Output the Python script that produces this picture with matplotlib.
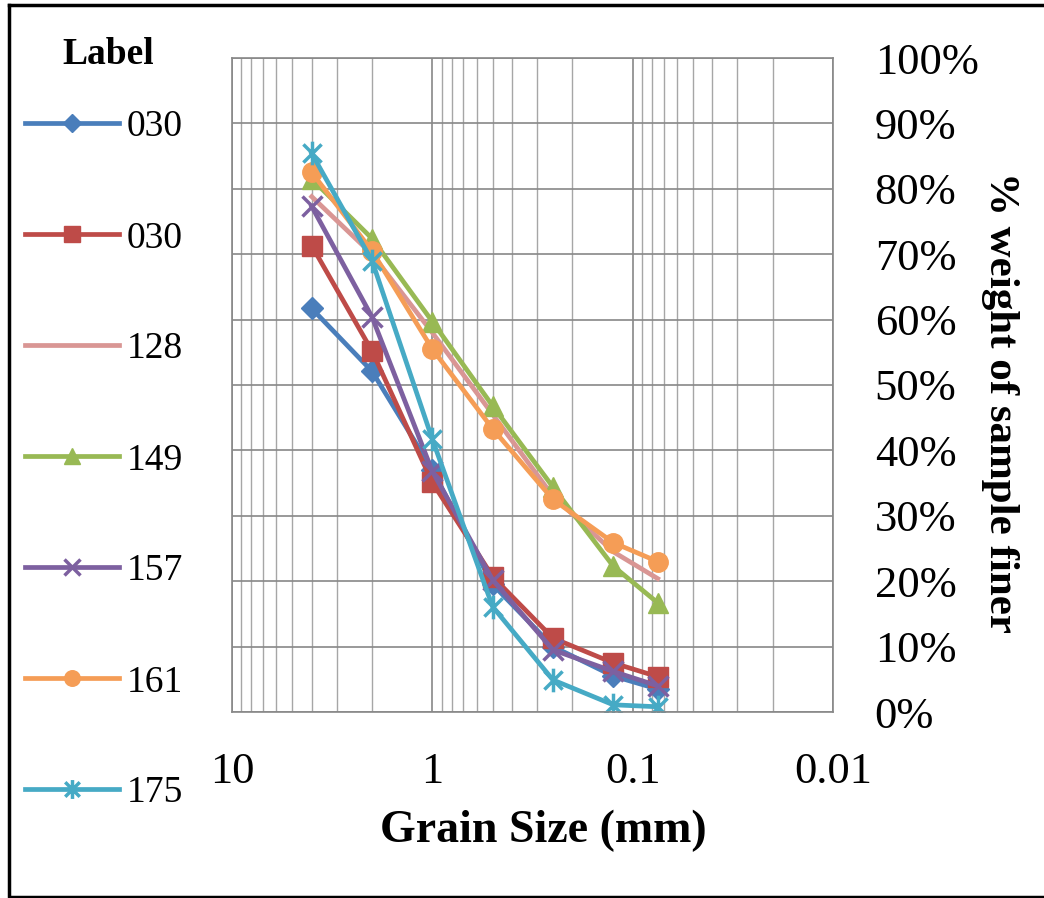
import numpy as np
import matplotlib
matplotlib.use('Agg')
from matplotlib import pyplot as plt
from matplotlib.path import Path
from matplotlib.lines import Line2D
from matplotlib.ticker import FixedLocator, NullFormatter

plt.rcParams['font.family'] = ['Liberation Serif', 'DejaVu Serif']

# grain size (mm) and % finer for each sample
sizes = [4, 2, 1, 0.5, 0.25, 0.125, 0.075]
labels = ['030', '030', '128', '149', '157', '161', '175']
s030a = [61.7, 52.1, 37.0, 19.5, 10.0, 5.5, 3.5]
s030b = [71.3, 55.2, 35.1, 20.7, 11.3, 7.5, 5.4]
s128 = [78.8, 70.0, 58.0, 45.5, 33.0, 24.5, 20.4]
s149 = [81.5, 72.4, 59.7, 46.8, 34.4, 22.3, 16.7]
s157 = [77.3, 60.4, 36.8, 20.2, 9.5, 6.2, 4.0]
s161 = [82.5, 70.5, 55.5, 43.3, 32.5, 25.9, 23.0]
s175 = [85.4, 69.0, 41.7, 16.1, 4.9, 1.1, 0.8]
series = [s030a, s030b, s128, s149, s157, s161, s175]

# asterisk marker like excel's (x plus vertical bar)
star = Path([(-1, -1), (1, 1), (-1, 1), (1, -1), (0, -1.3), (0, 1.3)],
            [Path.MOVETO, Path.LINETO, Path.MOVETO, Path.LINETO, Path.MOVETO, Path.LINETO])

styles = [
    dict(color='#4A7EBB', marker='D', ms=11),
    dict(color='#BE4B48', marker='s', ms=14),
    dict(color='#D99694', marker=None, ms=0),
    dict(color='#98B954', marker='^', ms=14),
    dict(color='#7D60A0', marker='x', ms=15, mew=2.5),
    dict(color='#F59D56', marker='o', ms=14),
    dict(color='#46AAC5', marker=star, ms=17, mew=2.5),
]

fig = plt.figure(figsize=(10.44, 8.98), dpi=100)
ax = fig.add_axes([232/1044, 1-712/898, 601/1044, 654/898])

for vals, lab, st in zip(series, labels, styles):
    ax.plot(sizes, np.array(vals)/100, label=lab, color=st['color'], lw=3.4,
            marker=st['marker'], markersize=st['ms'],
            markeredgewidth=st.get('mew', 1), markeredgecolor=st['color'],
            markerfacecolor=st['color'])

ax.set_xscale('log')
ax.set_xlim(10, 0.01)
ax.set_ylim(0, 1)
ax.xaxis.set_major_locator(FixedLocator([10, 1, 0.1, 0.01]))
ax.set_xticklabels(['10', '1', '0.1', '0.01'])
minors = [m*d for d in [0.01, 0.1, 1] for m in range(2, 10)]
ax.xaxis.set_minor_locator(FixedLocator(minors))
ax.xaxis.set_minor_formatter(NullFormatter())
ax.set_yticks(np.arange(0, 1.01, 0.1))
ax.set_yticklabels(['%d%%' % v for v in range(0, 101, 10)])
ax.yaxis.tick_right()

ax.grid(which='major', color='#888888', lw=1.2)
ax.grid(which='minor', axis='x', color='#A6A6A6', lw=1.0)
ax.set_axisbelow(True)
for sp in ax.spines.values():
    sp.set_color('#888888')
    sp.set_linewidth(1.2)
ax.tick_params(axis='both', which='both', length=0)
ax.tick_params(axis='x', labelsize=32, pad=29)
ax.tick_params(axis='y', labelsize=32, pad=30)

fig.text(543/1044, 1-831/898, 'Grain Size (mm)', fontsize=33, fontweight='bold',
         ha='center', va='center')
fig.text(1000/1044, 1-402/898, '% weight of sample finer', fontsize=31,
         fontweight='bold', rotation=-90, ha='center', va='center')

fig.text(108/1044, 1-55/898, 'Label', fontsize=27, fontweight='bold',
         ha='center', va='center')
leg = fig.legend(loc='upper left', bbox_to_anchor=(25/1044, 1-110/898), frameon=False,
                 fontsize=27, labelspacing=2.04, handlelength=2.5, handletextpad=0.2,
                 borderaxespad=0, borderpad=0, markerscale=0.8)

# figure border (left, top, bottom)
fig.add_artist(Line2D([9/1044, 9/1044, 1.0], [1-5/898, 1-897/898, 1-897/898],
                      transform=fig.transFigure, color='black', lw=2.5))
fig.add_artist(Line2D([9/1044, 1.0], [1-5/898, 1-5/898],
                      transform=fig.transFigure, color='black', lw=2.5))

fig.savefig('out.png', dpi=100)
